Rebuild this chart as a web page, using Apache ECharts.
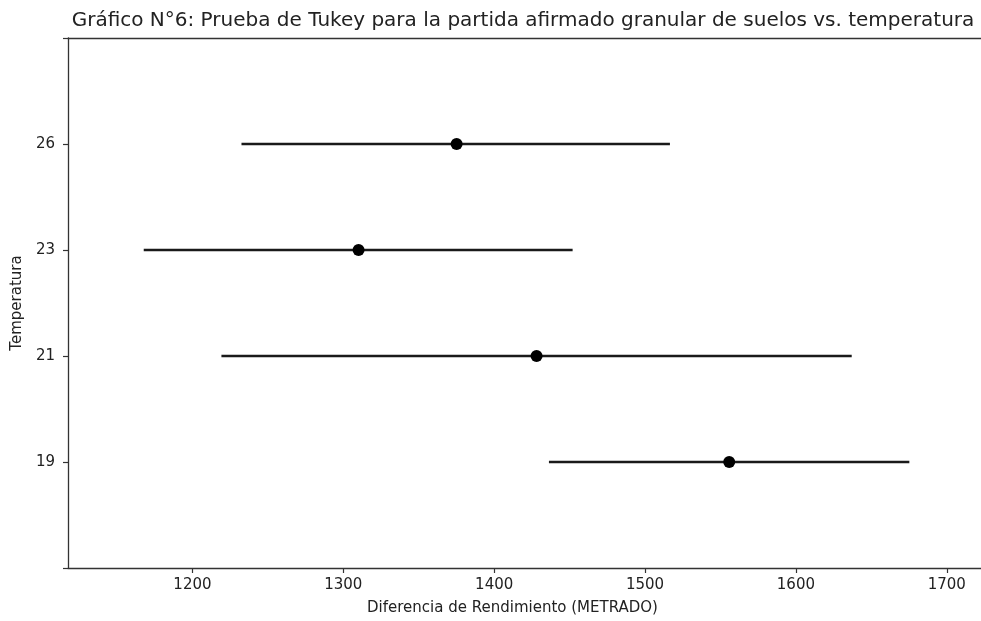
<!DOCTYPE html>
<html>
<head>
<meta charset="utf-8">
<script src="https://cdn.jsdelivr.net/npm/echarts@6/dist/echarts.min.js"></script>
<style>html,body{margin:0;padding:0;background:#fff}#c{width:981px;height:621px}</style>
</head>
<body>
<div id="c"></div>
<script>
// Groups (Temperatura) from bottom to top
const temps = ['19', '21', '23', '26'];
// Group means (Diferencia de Rendimiento)
const means = [1555.8, 1428.1, 1310.1, 1375.1];
// Simultaneous confidence interval bounds
const lower = [1436.3, 1219.2, 1167.7, 1232.5];
const upper = [1675.2, 1637.0, 1452.0, 1516.5];
// X tick labels
const xTicks = [1200, 1300, 1400, 1500, 1600, 1700];

const font = 'DejaVu Sans';
const txt = '#222';

const intervalData = temps.map((t, i) => [lower[i], upper[i], i]);
const meanData = temps.map((t, i) => [means[i], i]);

const chart = echarts.init(document.getElementById('c'));
chart.setOption({
  animation: false,
  title: {
    text: 'Gráfico N°6: Prueba de Tukey para la partida afirmado granular de suelos vs. temperatura',
    left: 518, top: 6, textAlign: 'center',
    textStyle: { fontFamily: font, fontSize: 20, fontWeight: 'normal', color: txt }
  },
  grid: { left: 68, right: 0, top: 38, bottom: 49 },
  xAxis: [{
    type: 'value', min: 1117.5, max: 1722.7,
    name: 'Diferencia de Rendimiento (METRADO)', nameLocation: 'middle', nameGap: 33,
    nameTextStyle: { fontFamily: font, fontSize: 15, color: txt, padding: [0, 24, 0, 0] },
    axisLine: { show: true, onZero: false, lineStyle: { color: '#333', width: 1.3 } },
    axisTick: { show: true, length: 5, customValues: xTicks, lineStyle: { color: '#333', width: 1.2 } },
    axisLabel: { customValues: xTicks, fontFamily: font, fontSize: 15, color: txt, margin: 10,
      formatter: v => String(v) },
    splitLine: { show: false }
  }, {
    type: 'value', position: 'top', min: 1117.5, max: 1722.7,
    axisLine: { show: true, onZero: false, lineStyle: { color: '#333', width: 1.3 } },
    axisTick: { show: false }, axisLabel: { show: false }, splitLine: { show: false }
  }],
  yAxis: {
    type: 'value', min: -1, max: 4, interval: 1,
    name: 'Temperatura', nameLocation: 'middle', nameGap: 42, nameRotate: 90,
    nameTextStyle: { fontFamily: font, fontSize: 15, color: txt },
    axisLine: { show: true, onZero: false, lineStyle: { color: '#333', width: 1.3 } },
    axisTick: { show: true, length: 5, lineStyle: { color: '#333', width: 1.2 } },
    axisLabel: {
      fontFamily: font, fontSize: 15, color: txt, margin: 13,
      formatter: v => (temps[v] !== undefined ? temps[v] : '')
    },
    splitLine: { show: false }
  },
  series: [{
    type: 'custom',
    data: intervalData,
    encode: { x: [0, 1], y: 2 },
    renderItem: (params, api) => {
      const a = api.coord([api.value(0), api.value(2)]);
      const b = api.coord([api.value(1), api.value(2)]);
      return {
        type: 'line',
        shape: { x1: a[0], y1: a[1], x2: b[0], y2: b[1] },
        style: { stroke: '#1a1a1a', lineWidth: 2.4 }
      };
    },
    z: 2
  }, {
    type: 'scatter',
    data: meanData,
    symbol: 'circle', symbolSize: 12,
    itemStyle: { color: '#000', opacity: 1 },
    z: 3
  }]
});
</script>
</body>
</html>
